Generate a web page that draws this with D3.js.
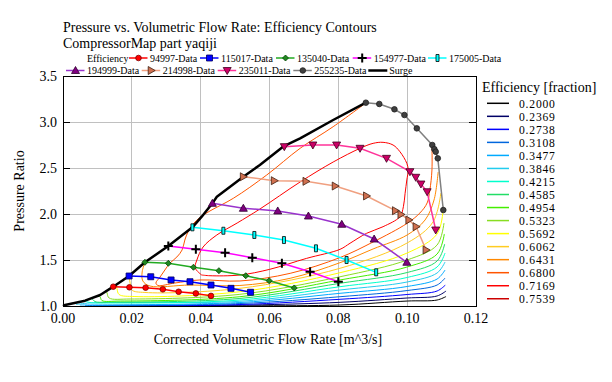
<!DOCTYPE html>
<html><head><meta charset="utf-8">
<script src="https://cdn.jsdelivr.net/npm/d3@7"></script>
<style>
html,body{margin:0;padding:0;background:#fff;}
svg{display:block;font-family:"Liberation Serif","Times New Roman",serif;}
</style></head><body>
<svg id="chart" width="612" height="382"></svg>
<script>
// ---------------- DATA ----------------
const titleLines = ["Pressure vs. Volumetric Flow Rate: Efficiency Contours", "CompressorMap part yaqiji"];
const xTicks = [0, 0.02, 0.04, 0.06, 0.08, 0.10, 0.12];
const xTickLabels = ["0.00","0.02","0.04","0.06","0.08","0.10","0.12"];
const yTicks = [1.0, 1.5, 2.0, 2.5, 3.0, 3.5];
const yTickLabels = ["1.0","1.5","2.0","2.5","3.0","3.5"];

const speedNames = ["94997-Data","115017-Data","135040-Data","154977-Data","175005-Data","194999-Data","214998-Data","235011-Data","255235-Data"];
const flow94997  = [0.0146,0.0193,0.0240,0.0290,0.0336,0.0386,0.0430];
const pr94997    = [1.210,1.203,1.199,1.181,1.155,1.137,1.110];
const flow115017 = [0.0192,0.0255,0.0314,0.0369,0.0430,0.0488,0.0545];
const pr115017   = [1.326,1.318,1.283,1.264,1.228,1.192,1.149];
const flow135040 = [0.0238,0.0306,0.0379,0.0453,0.0531,0.0599,0.0672];
const pr135040   = [1.475,1.464,1.421,1.384,1.329,1.275,1.196];
const flow154977 = [0.0306,0.0386,0.0471,0.0550,0.0636,0.0718,0.0800];
const pr154977   = [1.652,1.616,1.580,1.525,1.464,1.373,1.264];
const flow175005 = [0.0376,0.0466,0.0556,0.0642,0.0735,0.0824,0.0910];
const pr175005   = [1.855,1.818,1.772,1.717,1.627,1.500,1.366];
const flow194999 = [0.0434,0.0524,0.0624,0.0713,0.0810,0.0904,0.0999];
const pr194999   = [2.116,2.062,2.033,1.978,1.888,1.728,1.475];
const flow214998 = [0.0524,0.0614,0.0706,0.0791,0.0882,0.0966,0.0982,0.1005,0.1026,0.1055];
const pr214998   = [2.405,2.362,2.355,2.304,2.196,2.036,1.995,1.935,1.862,1.609];
const flow235011 = [0.0643,0.0726,0.0795,0.0863,0.0940,0.1008,0.1025,0.1040,0.1058,0.1083];
const pr235011   = [2.732,2.750,2.750,2.714,2.605,2.460,2.399,2.326,2.242,1.826];
const flow255235 = [0.0880,0.0919,0.0963,0.0992,0.1028,0.1073,0.1079,0.1083,0.1089,0.1105];
const pr255235   = [3.210,3.196,3.138,3.076,2.931,2.750,2.705,2.677,2.605,2.043];

const surgeFlow = [0,0.0006,0.0064,0.0108,0.0146,0.0192,0.0238,0.0306,0.0376,0.0403,0.0434,0.0447,0.0524,0.0572,0.0642,0.0689,0.0785,0.0880];
const surgePr   = [1.0,1.011,1.058,1.12,1.21,1.326,1.475,1.652,1.855,1.971,2.116,2.188,2.405,2.533,2.739,2.823,3.022,3.210];

const contourLevels = ["0.2000","0.2369","0.2738","0.3108","0.3477","0.3846","0.4215","0.4585","0.4954","0.5323","0.5692","0.6062","0.6431","0.6800","0.7169","0.7539"];
const contourColors = ["#000000","#000066","#0000ff","#0066dd","#00aaff","#22ccee","#00ffcc","#22dd66","#44ee00","#88dd22","#ffff00","#ffcc22","#ff8800","#ff5500","#ff0000","#cc0000"];

// contour lines [flow, pressure ratio]
const c2000 = [[0.0195,1.0],[0.0543,1.002],[0.0805,1.011],[0.1000,1.054],[0.1087,1.065],[0.1113,1.103]];
const c2369 = [[0.0137,1.0],[0.0543,1.011],[0.0805,1.040],[0.1000,1.087],[0.1087,1.109],[0.1113,1.163]];
const c2738 = [[0.0093,1.0],[0.0514,1.016],[0.0805,1.073],[0.1000,1.125],[0.1087,1.163],[0.1111,1.228]];
const c3108 = [[0.0064,1.005],[0.0514,1.027],[0.0805,1.101],[0.1000,1.168],[0.1087,1.228],[0.1110,1.304]];
const c3477 = [[0.0049,1.011],[0.0514,1.038],[0.0805,1.138],[0.1000,1.212],[0.1087,1.293],[0.1110,1.391]];
const c3846 = [[0.0038,1.016],[0.0078,1.033],[0.0514,1.051],[0.0805,1.174],[0.1000,1.261],[0.1087,1.359],[0.1110,1.478]];
const c4215 = [[0.0064,1.054],[0.0078,1.038],[0.0137,1.033],[0.0514,1.065],[0.0805,1.210],[0.1000,1.310],[0.1087,1.424],[0.1110,1.576]];
const c4585 = [[0.0084,1.082],[0.0093,1.049],[0.0137,1.043],[0.0514,1.082],[0.0805,1.247],[0.1000,1.364],[0.1087,1.489],[0.1109,1.674]];
const c4954 = [[0.0102,1.114],[0.0108,1.098],[0.0113,1.060],[0.0166,1.054],[0.0514,1.101],[0.0805,1.283],[0.1000,1.424],[0.1087,1.565],[0.1108,1.783]];
const c5323 = [[0.0125,1.174],[0.0128,1.141],[0.0134,1.087],[0.0195,1.076],[0.0514,1.127],[0.0805,1.318],[0.1000,1.500],[0.1087,1.663],[0.1107,1.902]];
const c5692 = [[0.0154,1.234],[0.0157,1.185],[0.0163,1.125],[0.0209,1.103],[0.0514,1.155],[0.0805,1.362],[0.1000,1.576],[0.1087,1.783],[0.1104,2.033]];
const c6062 = [[0.0192,1.326],[0.0195,1.250],[0.0200,1.174],[0.0238,1.147],[0.0514,1.192],[0.0805,1.410],[0.1000,1.685],[0.1075,1.913],[0.1098,2.228]];
const c6431 = [[0.0238,1.473],[0.0230,1.370],[0.0232,1.272],[0.0253,1.217],[0.0369,1.228],[0.0514,1.223],[0.0660,1.301],[0.0805,1.471],[0.0901,1.620],[0.1000,1.772],[0.1052,1.935],[0.1078,2.152],[0.1090,2.457]];
const c6800 = [[0.0880,3.207],[0.0785,2.949],[0.0689,2.714],[0.0592,2.424],[0.0495,2.171],[0.0427,2.033],[0.0398,1.962],[0.0378,1.891],[0.0363,1.804],[0.0354,1.717],[0.0346,1.609],[0.0331,1.533],[0.0311,1.467],[0.0296,1.391],[0.0282,1.315],[0.0270,1.250],[0.0276,1.223],[0.0325,1.250],[0.0398,1.283],[0.0514,1.272],[0.0660,1.355],[0.0805,1.527],[0.0901,1.696],[0.1000,1.899],[0.1037,2.011],[0.1058,2.120],[0.1066,2.261],[0.1072,2.478],[0.1072,2.739]];
const c7169 = [[0.0403,1.337],[0.0384,1.413],[0.0389,1.500],[0.0407,1.641],[0.0447,1.772],[0.0506,1.902],[0.0572,2.054],[0.0689,2.348],[0.0785,2.565],[0.0863,2.714],[0.0901,2.768],[0.0930,2.779],[0.0959,2.750],[0.0979,2.677],[0.0999,2.551],[0.1003,2.478],[0.0999,2.370],[0.0994,2.225],[0.0989,2.079],[0.0979,1.971],[0.0930,1.862],[0.0882,1.790],[0.0834,1.682],[0.0805,1.616],[0.0708,1.518],[0.0601,1.399],[0.0514,1.337],[0.0427,1.329],[0.0403,1.337]];
const c7539 = [];

// ---------------- LAYOUT ----------------
const svg = d3.select("#chart");
const x = d3.scaleLinear().domain([0, 0.12]).range([63, 476]);
const y = d3.scaleLinear().domain([1.0, 3.5]).range([306, 76]);
const FS = 14;

// titles
svg.append("text").attr("x", 63).attr("y", 32).attr("font-size", FS).text(titleLines[0]);
svg.append("text").attr("x", 63).attr("y", 48).attr("font-size", FS).text(titleLines[1]);

// grid
const g = svg.append("g");
g.selectAll("line.vg").data(xTicks.slice(1, -1)).enter().append("line")
  .attr("x1", d => x(d)).attr("x2", d => x(d)).attr("y1", y(3.5)).attr("y2", y(1.0))
  .attr("stroke", "#c0c0c0").attr("stroke-width", 1).attr("shape-rendering","crispEdges");
g.selectAll("line.hg").data(yTicks.slice(1, -1)).enter().append("line")
  .attr("x1", x(0)).attr("x2", x(0.12)).attr("y1", d => y(d)).attr("y2", d => y(d))
  .attr("stroke", "#c0c0c0").attr("stroke-width", 1).attr("shape-rendering","crispEdges");

// contours
const contourData = [c2000,c2369,c2738,c3108,c3477,c3846,c4215,c4585,c4954,c5323,c5692,c6062,c6431,c6800,c7169,c7539];
const cline = d3.line().x(d => x(d[0])).y(d => y(d[1])).curve(d3.curveCatmullRom.alpha(0.5));
svg.append("clipPath").attr("id","pc").append("rect")
  .attr("x", x(0)).attr("y", y(3.5)).attr("width", x(0.12)-x(0)).attr("height", y(1.0)-y(3.5));
const cg = svg.append("g").attr("clip-path","url(#pc)");
contourData.forEach((pts, i) => {
  if (!pts.length) return;
  cg.append("path").attr("d", cline(pts)).attr("fill","none")
    .attr("stroke", contourColors[i]).attr("stroke-width", 1);
});

// speed lines
const speedFlows = [flow94997,flow115017,flow135040,flow154977,flow175005,flow194999,flow214998,flow235011,flow255235];
const speedPrs   = [pr94997,pr115017,pr135040,pr154977,pr175005,pr194999,pr214998,pr235011,pr255235];
const speedStyle = [
  {line:"#ff0000", mk:"circle",  fill:"#ff0000", stroke:"#800000"},
  {line:"#0000ff", mk:"square",  fill:"#0000ff", stroke:"#000060"},
  {line:"#22aa22", mk:"diamond", fill:"#228822", stroke:"#004400"},
  {line:"#ff00ff", mk:"plus",    fill:"none",    stroke:"#000000"},
  {line:"#00ffff", mk:"bar",     fill:"#00ffff", stroke:"#000000"},
  {line:"#9933cc", mk:"triUp",   fill:"#800080", stroke:"#300030"},
  {line:"#f0a080", mk:"triRight",fill:"#d07050", stroke:"#402010"},
  {line:"#ff3399", mk:"triDown", fill:"#cc0066", stroke:"#400020"},
  {line:"#808080", mk:"dot",     fill:"#404040", stroke:"#202020"}
];
function markerPath(t) {
  switch (t) {
    case "square": return "M-3,-3H3V3H-3Z";
    case "diamond": return "M0,-3L3,0L0,3L-3,0Z";
    case "plus": return "M-4.5,0H4.5M0,-4.5V4.5";
    case "bar": return "M-1.5,-3.5H1.5V3.5H-1.5Z";
    case "triUp": return "M0,-4L4,3L-4,3Z";
    case "triRight": return "M-3,-4L4,0L-3,4Z";
    case "triDown": return "M-4,-3L4,-3L0,4Z";
    default: return null;
  }
}
function drawMarker(sel, st, cx, cy) {
  if (st.mk === "circle" || st.mk === "dot") {
    sel.append("circle").attr("cx", cx).attr("cy", cy).attr("r", 2.8)
      .attr("fill", st.fill).attr("stroke", st.stroke).attr("stroke-width", 0.8);
  } else if (st.mk === "plus") {
    sel.append("path").attr("d", markerPath("plus")).attr("transform", `translate(${cx},${cy})`)
      .attr("stroke", st.stroke).attr("stroke-width", 2).attr("fill","none");
  } else {
    sel.append("path").attr("d", markerPath(st.mk)).attr("transform", `translate(${cx},${cy})`)
      .attr("fill", st.fill).attr("stroke", st.stroke).attr("stroke-width", 0.8);
  }
}
const sline = d3.line().x(d => x(d[0])).y(d => y(d[1]));
const lg = svg.append("g");
speedFlows.forEach((fl, i) => {
  const pts = fl.map((v, j) => [v, speedPrs[i][j]]);
  lg.append("path").attr("d", sline(pts)).attr("fill","none")
    .attr("stroke", speedStyle[i].line).attr("stroke-width", 1.5);
});
// surge
lg.append("path").attr("d", sline(surgeFlow.map((v, j) => [v, surgePr[j]])))
  .attr("fill","none").attr("stroke","#000").attr("stroke-width", 2.5).attr("stroke-linejoin","round");
// markers
const mg = svg.append("g");
speedFlows.forEach((fl, i) => {
  fl.forEach((v, j) => drawMarker(mg, speedStyle[i], x(v), y(speedPrs[i][j])));
});

// frame and ticks
svg.append("rect").attr("x", x(0)).attr("y", y(3.5)).attr("width", x(0.12)-x(0)).attr("height", y(1.0)-y(3.5))
  .attr("fill","none").attr("stroke","#000").attr("stroke-width",1).attr("shape-rendering","crispEdges");
svg.selectAll("line.yt").data(yTicks.slice(1,-1)).enter().append("line")
  .attr("x1", x(0)).attr("x2", x(0)+7).attr("y1", d => y(d)).attr("y2", d => y(d))
  .attr("stroke","#000").attr("shape-rendering","crispEdges");
svg.selectAll("line.yt2").data(yTicks.slice(1,-1)).enter().append("line")
  .attr("x1", x(0.12)).attr("x2", x(0.12)-7).attr("y1", d => y(d)).attr("y2", d => y(d))
  .attr("stroke","#000").attr("shape-rendering","crispEdges");

// tick labels
svg.selectAll("text.xl").data(xTicks).enter().append("text")
  .attr("x", d => x(d)).attr("y", 323).attr("text-anchor","middle").attr("font-size", FS)
  .text((d, i) => xTickLabels[i]);
svg.selectAll("text.yl").data(yTicks).enter().append("text")
  .attr("x", 57).attr("y", d => y(d) + 5).attr("text-anchor","end").attr("font-size", FS)
  .text((d, i) => yTickLabels[i]);

// axis titles
svg.append("text").attr("x", 268).attr("y", 344).attr("text-anchor","middle").attr("font-size", FS)
  .text("Corrected Volumetric Flow Rate [m^3/s]");
svg.append("text").attr("transform","translate(24,191) rotate(-90)").attr("text-anchor","middle").attr("font-size", FS)
  .text("Pressure Ratio");

// top legend (symbol slots as in the reference layout)
const legRows = [
  [{label:"Efficiency", st:null, at:66}].concat(speedNames.slice(0,5).map((n,i)=>({label:n, st:speedStyle[i], at:[129,200,276,352.7,428][i]}))),
  speedNames.slice(5).map((n,i)=>({label:n, st:speedStyle[i+5], at:[66,141.7,217.7,293.3][i]})).concat([{label:"Surge", st:"surge", at:368.3}])
];
const legY = [58, 70.5];
legRows.forEach((row, r) => {
  row.forEach(item => {
    const yy = legY[r], cx = item.at;
    if (item.st === "surge") {
      svg.append("line").attr("x1", cx).attr("x2", cx+19).attr("y1", yy).attr("y2", yy)
        .attr("stroke","#000").attr("stroke-width",2.5);
    } else if (item.st) {
      svg.append("line").attr("x1", cx).attr("x2", cx+18.5).attr("y1", yy).attr("y2", yy)
        .attr("stroke", item.st.line).attr("stroke-width",1.5);
      drawMarker(svg, item.st, cx+9.5, yy);
    }
    svg.append("text").attr("x", cx+21).attr("y", yy+3.5).attr("font-size", 10).text(item.label);
  });
});

// right legend
svg.append("text").attr("x", 482).attr("y", 92).attr("font-size", FS).text("Efficiency [fraction]");
contourLevels.forEach((lv, i) => {
  const yy = 103.3 + i * 13.03;
  svg.append("line").attr("x1", 487).attr("x2", 509).attr("y1", yy).attr("y2", yy)
    .attr("stroke", contourColors[i]).attr("stroke-width", 1.5);
  svg.append("text").attr("x", 519).attr("y", yy + 4.2).attr("font-size", 11.6)
    .attr("letter-spacing", 0.8).text(lv);
});
</script>
</body></html>
